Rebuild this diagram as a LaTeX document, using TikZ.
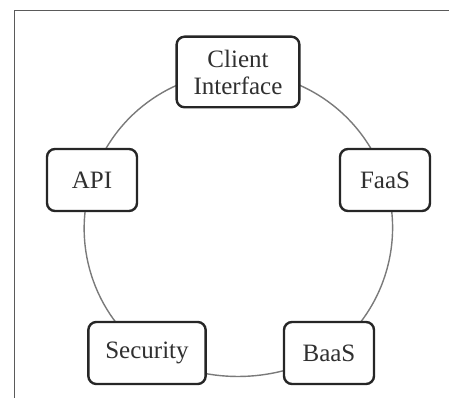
\documentclass[tikz,border=0pt]{standalone}
\usepackage{fontspec}
\setmainfont{Liberation Serif}
\usetikzlibrary{positioning, backgrounds}
\definecolor{boxline}{HTML}{262626}
\definecolor{ringgray}{HTML}{7A7A7A}
\definecolor{framegray}{HTML}{5A5A5A}
\definecolor{txtdark}{HTML}{303030}

\begin{document}
\begin{tikzpicture}[
  x=1pt, y=1pt,
  part/.style={
    draw=boxline, line width=2.4pt, fill=white, rounded corners=8pt,
    minimum width=90pt, minimum height=62pt, inner xsep=17pt, inner ysep=13pt,
    font=\fontsize{25}{27}\selectfont, text=txtdark, align=center
  },
  ring/.style={draw=ringgray, line width=1.4pt, bend left=36, looseness=0.94},
]

\useasboundingbox (0,0) rectangle (449,398);

% Frame (top and left edges)
\draw[framegray, line width=1pt] (449,387) -- (14,387) -- (14,0);

% Components
\node[part] (client) at (238,326) {Client\\Interface};
\node[part] (faas) at (385,218) {FaaS};
\node[part] (baas) at (329,45) {BaaS};
\node[part] (security) at (147,45) {Security};
\node[part] (api) at (92,218) {API};

% Ring through the components (behind the boxes)
\begin{scope}[on background layer]
  \draw[ring] (client.center) to (faas.center);
  \draw[ring] (faas.center) to (baas.center);
  \draw[ring] (baas.center) to[bend left=28] (security.center);
  \draw[ring] (security.center) to (api.center);
  \draw[ring] (api.center) to (client.center);
\end{scope}

\end{tikzpicture}
\end{document}
